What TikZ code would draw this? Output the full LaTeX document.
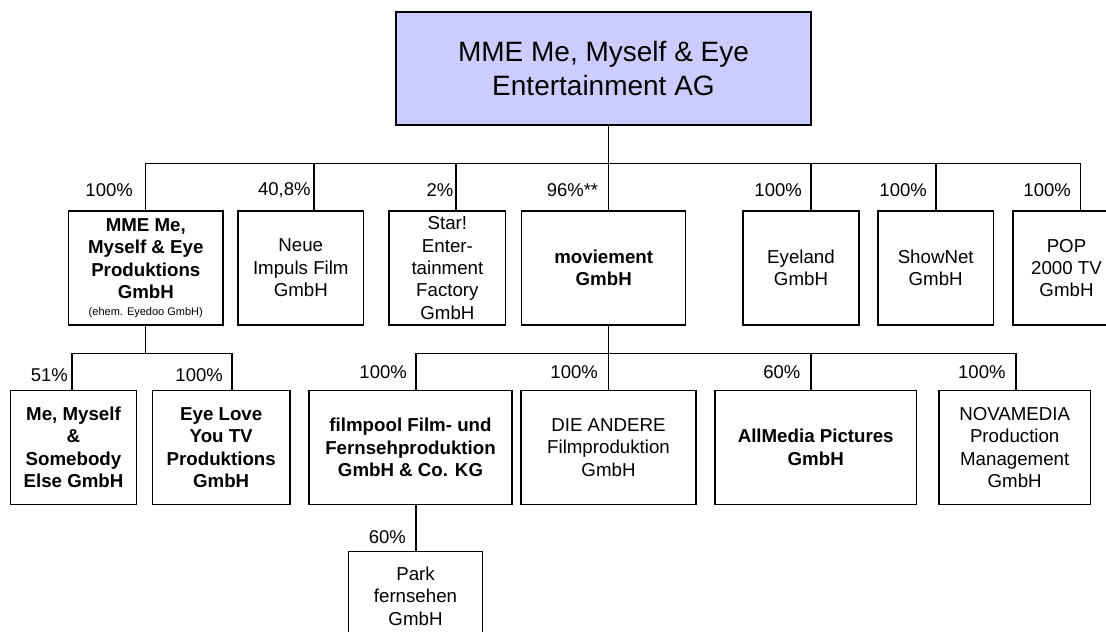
\documentclass[tikz,border=0pt]{standalone}
\usepackage{fontspec}
\setmainfont{Liberation Sans}
\usetikzlibrary{calc}
\definecolor{rootblue}{RGB}{204,204,255}
\tikzset{
  firm/.style={draw, line width=1.2pt, inner sep=0pt, align=center, font=\fontsize{18.7}{22.4}\selectfont},
  firmbold/.style={firm, font=\fontsize{18.7}{22.4}\selectfont\bfseries},
  share/.style={anchor=east, inner sep=0pt, font=\fontsize{18.5}{22}\selectfont},
  link/.style={line width=1.2pt}
}

\begin{document}
\begin{tikzpicture}[x=1pt,y=-1pt]
\useasboundingbox (0,0) rectangle (1106,632);
\clip (0,0) rectangle (1106,632);

% holding
\node[firm, fill=rootblue, minimum width=415pt, minimum height=113pt, font=\fontsize{28}{34}\selectfont] (root) at (603.5,68.5) {MME Me, Myself \& Eye\\ Entertainment AG};

% first level
\node[firmbold, minimum width=154.4pt, minimum height=114pt] (mmeprod) at (145.8,268) {MME Me,\\ Myself \& Eye\\ Produktions\\ GmbH\\[-6pt] {\fontsize{11}{13}\selectfont\mdseries (ehem. Eyedoo GmbH)}};
\node[firm, minimum width=125.6pt, minimum height=114pt] (neue) at (300.8,268) {Neue\\ Impuls Film\\ GmbH};
\node[firm, minimum width=116.7pt, minimum height=114pt] (star) at (447.4,268) {Star!\\ Enter-\\ tainment\\ Factory\\ GmbH};
\node[firmbold, minimum width=163.7pt, minimum height=114pt] (moviement) at (603.7,268) {moviement\\ GmbH};
\node[firm, minimum width=116pt, minimum height=114pt] (eyeland) at (801,268) {Eyeland\\ GmbH};
\node[firm, minimum width=115.4pt, minimum height=114pt] (shownet) at (935.7,268) {ShowNet\\ GmbH};
\node[firm, minimum width=107pt, minimum height=114pt] (pop) at (1066.5,268) {POP\\ 2000 TV\\ GmbH};

% second level
\node[firmbold, minimum width=125.7pt, minimum height=113.6pt] (memyself) at (73.5,447.5) {Me, Myself\\ \&\\ Somebody\\ Else GmbH};
\node[firmbold, minimum width=137.5pt, minimum height=113.6pt] (eyelove) at (221.2,447.5) {Eye Love\\ You TV\\ Produktions\\ GmbH};
\node[firmbold, minimum width=203pt, minimum height=113.6pt] (filmpool) at (410.5,447.5) {filmpool Film- und\\ Fernsehproduktion\\ GmbH \& Co. KG};
\node[firm, minimum width=175pt, minimum height=113.6pt] (andere) at (608.5,447.5) {DIE ANDERE\\ Filmproduktion\\ GmbH};
\node[firmbold, minimum width=201.5pt, minimum height=113.6pt] (allmedia) at (815.7,447.5) {AllMedia Pictures\\ GmbH};
\node[firm, minimum width=151.5pt, minimum height=113.6pt] (nova) at (1014.7,447.5) {NOVAMEDIA\\ Production\\ Management\\ GmbH};

% third level
\node[firm, minimum width=134.4pt, minimum height=88.6pt] (park) at (415.5,596) {Park\\ fernsehen\\ GmbH};

% connectors
\coordinate (b1) at (145.7,163.5);
\coordinate (b2) at (314,163.5);
\coordinate (b3) at (456,163.5);
\coordinate (b4) at (608.3,163.5);
\coordinate (b5) at (811,163.5);
\coordinate (b6) at (936,163.5);
\coordinate (b7) at (1080.5,163.5);
\draw[link] (b4 |- root.south) -- (b4);
\draw[link] (b1 |- mmeprod.north) -- (b1) -- (b7) -- (b7 |- pop.north);
\draw[link] (b2) -- (b2 |- neue.north);
\draw[link] (b3) -- (b3 |- star.north);
\draw[link] (b4) -- (b4 |- moviement.north);
\draw[link] (b5) -- (b5 |- eyeland.north);
\draw[link] (b6) -- (b6 |- shownet.north);

\coordinate (c0) at (145.7,353.3);
\coordinate (c1) at (72,353.3);
\coordinate (c2) at (232,353.3);
\draw[link] (c0 |- mmeprod.south) -- (c0);
\draw[link] (c1 |- memyself.north) -- (c1) -- (c2) -- (c2 |- eyelove.north);

\coordinate (d0) at (608.3,353.3);
\coordinate (d1) at (416,353.3);
\coordinate (d3) at (811,353.3);
\coordinate (d4) at (1016,353.3);
\draw[link] (d0 |- moviement.south) -- (d0 |- andere.north);
\draw[link] (d1 |- filmpool.north) -- (d1) -- (d4) -- (d4 |- nova.north);
\draw[link] (d3) -- (d3 |- allmedia.north);

\coordinate (e1) at (416,530);
\draw[link] (e1 |- filmpool.south) -- (e1 |- park.north);

% shares
\node[share] (s-mmeprod) at (133,190.5) {100\%};
\node[share] (s-neue) at (310.7,190.5) {40,8\%};
\node[share] (s-star) at (453.6,190.5) {2\%};
\node[share] (s-moviement) at (598.4,190.5) {96\%**};
\node[share] (s-eyeland) at (802,190.5) {100\%};
\node[share] (s-shownet) at (927,190.5) {100\%};
\node[share] (s-pop) at (1071,190.5) {100\%};
\node[share] (s-memyself) at (68,375) {51\%};
\node[share] (s-eyelove) at (223,375) {100\%};
\node[share] (s-filmpool) at (407,371.7) {100\%};
\node[share] (s-andere) at (598,371.7) {100\%};
\node[share] (s-allmedia) at (800.6,371.7) {60\%};
\node[share] (s-nova) at (1005.7,371.7) {100\%};
\node[share] (s-park) at (406,537) {60\%};
\end{tikzpicture}
\end{document}
